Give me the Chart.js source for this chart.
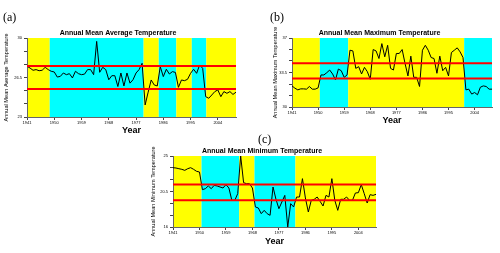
<!DOCTYPE html>
<html><head><meta charset="utf-8">
<script src="https://cdn.jsdelivr.net/npm/chart.js@4.4.1/dist/chart.umd.min.js"></script>
<style>
html,body{margin:0;padding:0;background:#fff;width:500px;height:253px;overflow:hidden}
body{position:relative}
canvas{position:absolute;display:block}
.lbl{position:absolute;font-family:"Liberation Serif","Times New Roman",serif;font-size:12px;line-height:12px;color:#000;white-space:nowrap;will-change:transform;transform:translateZ(0);background:#fff}
</style></head><body>
<div class="lbl" style="left:3px;top:11px">(a)</div>
<div class="lbl" style="left:270px;top:11px">(b)</div>
<div class="lbl" style="left:258px;top:133px">(c)</div>
<canvas id="ca" width="240" height="111" style="left:0px;top:26px"></canvas>
<canvas id="cb" width="229" height="101" style="left:267px;top:26px"></canvas>
<canvas id="cc" width="232" height="103" style="left:148px;top:144px"></canvas>
<script>
// ---------------- data ----------------
const years = [1941,1942,1943,1944,1945,1946,1947,1948,1949,1950,1951,1952,1953,1954,1955,1956,1957,1958,1959,1960,
1961,1962,1963,1964,1965,1966,1967,1968,1969,1970,1971,1972,1973,1974,1975,1976,1977,1978,1979,1980,
1981,1982,1983,1984,1985,1986,1987,1988,1989,1990,1991,1992,1993,1994,1995,1996,1997,1998,1999,2000,
2001,2002,2003,2004,2005,2006,2007,2008,2009,2010];

const avgTemp = [27.49,27.34,27.14,27.2,27.1,27.14,27.4,27.2,27.05,26.99,26.54,26.6,26.9,26.75,26.84,26.46,27.05,26.84,26.75,26.8,
27.2,27.2,26.75,29.7,26.96,27.4,27.2,26.3,26.66,26.66,25.7,26.9,25.75,26.9,26.0,26.3,26.9,27.2,27.76,24.07,
25.2,26.28,25.84,25.75,27.46,26.58,27.23,26.81,27.02,26.95,25.63,26.28,26.22,26.34,26.87,27.23,26.87,27.61,27.31,24.8,
24.66,24.95,25.25,25.4,24.8,25.25,25.1,25.25,25.0,25.2];

const maxTemp = [32.14,31.91,31.74,31.84,31.84,31.81,32.08,31.81,31.81,31.94,33.25,33.25,33.48,33.75,33.35,32.75,33.85,33.68,33.01,33.25,
35.76,35.69,33.92,34.09,33.35,34.02,33.58,32.81,35.83,35.69,34.92,36.43,35.09,36.26,33.92,33.75,35.43,35.43,35.83,34.42,
33.15,35.16,33.01,33.01,32.08,35.76,36.26,35.76,35.02,34.92,33.42,35.16,33.68,34.02,33.15,35.53,35.76,36.0,35.59,35.02,
31.74,31.81,31.31,31.47,31.24,32.01,32.14,32.08,31.81,31.81];

const minTemp = [23.52,23.48,23.39,23.31,23.18,23.39,23.52,23.31,23.06,22.97,20.73,20.86,21.2,20.86,21.28,21.2,21.07,20.94,21.37,20.94,
19.38,19.38,20.23,25.0,21.62,21.49,21.49,20.94,18.54,18.41,17.69,18.11,17.69,17.48,21.07,19.51,18.32,19.17,20.01,16.0,
18.96,18.54,19.8,19.8,22.13,19.68,17.9,19.38,19.51,19.8,19.25,18.66,20.01,19.8,22.13,19.38,18.11,19.51,19.51,19.8,
19.38,19.38,20.31,20.35,21.37,20.23,19.04,20.1,20.01,20.14];

// reference (red) lines: [upper, lower]
const avgLines = [27.52, 25.48];
const maxLines = [34.45, 32.9];
const minLines = [21.4, 19.4];

// shaded periods: [start year, end year, colour name]
const avgBands = [[1941,1948.5,'yellow'],[1948.5,1979.5,'cyan'],[1979.5,1984.5,'yellow'],[1984.5,1990.3,'cyan'],[1990.3,1995.4,'yellow'],[1995.4,2000.2,'cyan'],[2000.2,2010,'yellow']];
const maxBands = [[1941,1950.6,'yellow'],[1950.6,1960.4,'cyan'],[1960.4,2000.4,'yellow'],[2000.4,2010,'cyan']];
const minBands = [[1941,1950.7,'yellow'],[1950.7,1963.5,'cyan'],[1963.5,1968.7,'yellow'],[1968.7,1982.6,'cyan'],[1982.6,2010,'yellow']];

// tick labels
const xTickLabels = ['1941','1950','1959','1968','1977','1986','1995','2004'];
const avgYTicks = [23,24.17,25.33,26.5,27.67,28.83,30];
const avgYLabels = ['23','','','26.5','','','30'];
const maxYTicks = [30,31.17,32.33,33.5,34.67,35.83,37];
const maxYLabels = ['30','','','33.5','','','37'];
const minYTicks = [16,17.5,19,20.5,22,23.5,25];
const minYLabels = ['16','','','20.5','','','25'];

// ---------------- drawing ----------------
const COLORS = {yellow:'#ffff00', cyan:'#00ffff'};
const SANS = '"Liberation Sans", Arial, sans-serif';
const NARROW = '"Liberation Sans Narrow", "Arial Narrow", "Liberation Sans", sans-serif';

const bandPlugin = {
  id: 'bands',
  beforeDraw(chart, args, opts) {
    const {ctx, chartArea, scales} = chart;
    const x = scales.x;
    ctx.save();
    (opts.list || []).forEach(b => {
      const x0 = x.getPixelForValue(b[0]);
      const x1 = x.getPixelForValue(b[1]);
      ctx.fillStyle = COLORS[b[2]];
      ctx.fillRect(x0, chartArea.top, x1 - x0, chartArea.bottom - chartArea.top);
    });
    ctx.restore();
  }
};

function makeChart(id, o) {
  const xVals = xTickLabels.map(Number);
  const hLine = v => [{x: years[0], y: v}, {x: years[years.length - 1], y: v}];
  new Chart(document.getElementById(id), {
    type: 'line',
    data: {
      datasets: [
        {data: hLine(o.lines[0]), borderColor: '#ff0000', borderWidth: 2, pointRadius: 0, order: 0},
        {data: hLine(o.lines[1]), borderColor: '#ff0000', borderWidth: 2, pointRadius: 0, order: 0},
        {data: years.map((yr, i) => ({x: yr, y: o.values[i]})), borderColor: '#000', borderWidth: 1, pointRadius: 0, tension: 0, order: 1}
      ]
    },
    options: {
      responsive: false, animation: false, devicePixelRatio: 1,
      layout: {padding: {left: 0, right: 4, top: 0, bottom: 0}},
      plugins: {
        legend: {display: false}, tooltip: {enabled: false},
        title: {display: true, text: o.title, color: '#000',
          font: {family: SANS, size: 7, weight: 'bold', lineHeight: 1.2},
          padding: {top: 3, bottom: 0.6}},
        bands: {list: o.bands}
      },
      scales: {
        x: {
          type: 'linear', min: years[0], max: years[years.length - 1],
          afterBuildTicks: s => { s.ticks = xVals.map(v => ({value: v})); },
          afterFit: s => { s.height = 20; },
          ticks: {autoSkip: false, maxRotation: 0, minRotation: 0, padding: 0.5, color: '#000',
            font: {family: NARROW, size: 4}, callback: v => { const i = xVals.indexOf(v); return i >= 0 ? xTickLabels[i] : ''; }},
          grid: {drawOnChartArea: false, tickLength: 3, color: '#444'},
          border: {color: '#666', width: 1},
          title: {display: true, text: 'Year', color: '#000', font: {family: SANS, size: 9, weight: 'bold', lineHeight: 1.2},
            padding: {top: 0, bottom: o.yearPad}}
        },
        y: {
          min: o.yTicks[0], max: o.yTicks[o.yTicks.length - 1],
          afterBuildTicks: s => { s.ticks = o.yTicks.map(v => ({value: v})); },
          afterFit: s => { s.width = o.yW; },
          ticks: {autoSkip: false, padding: 2, color: '#000', font: {family: NARROW, size: 4},
            callback: v => { const i = o.yTicks.indexOf(v); return i >= 0 ? o.yLabels[i] : ''; }},
          grid: {drawOnChartArea: false, tickLength: 3, color: '#444'},
          border: {color: '#666', width: 1},
          title: {display: true, text: o.yTitle, color: '#000', font: {family: NARROW, size: 5.6, lineHeight: 1.2},
            padding: {top: o.yTitlePad, bottom: 0}}
        }
      }
    },
    plugins: [bandPlugin]
  });
}

makeChart('ca', {title: 'Annual Mean Average Temperature', yTitle: 'Annual Mean Average Temperature',
  values: avgTemp, lines: avgLines, bands: avgBands, yTicks: avgYTicks, yLabels: avgYLabels,
  yW: 27, yTitlePad: 2.6, yearPad: 0.6});
makeChart('cb', {title: 'Annual Mean Maximum Temperature', yTitle: 'Annual Mean Maximum Temperature',
  values: maxTemp, lines: maxLines, bands: maxBands, yTicks: maxYTicks, yLabels: maxYLabels,
  yW: 25, yTitlePad: 4.6, yearPad: 0.6});
makeChart('cc', {title: 'Annual Mean Minimum Temperature', yTitle: 'Annual Mean Minimum Temperature',
  values: minTemp, lines: minLines, bands: minBands, yTicks: minYTicks, yLabels: minYLabels,
  yW: 25, yTitlePad: 1.9, yearPad: 0});
</script>
</body></html>
